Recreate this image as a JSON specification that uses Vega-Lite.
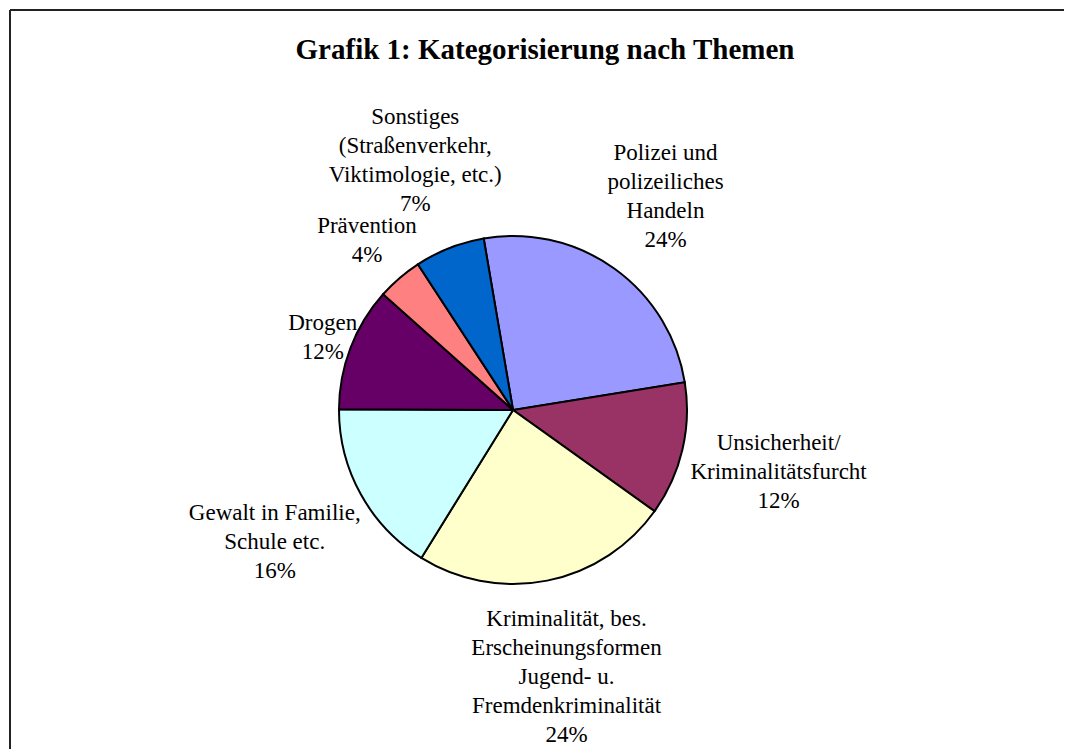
{
  "$schema": "https://vega.github.io/schema/vega-lite/v6.json",
  "width": 1065,
  "height": 750,
  "autosize": {"type": "fit", "contains": "padding"},
  "padding": {"left": 9, "top": 9, "right": 0, "bottom": 0},
  "background": "white",
  "config": {
    "view": {"stroke": null},
    "font": "Liberation Serif"
  },
  "title": {
    "text": "Grafik 1: Kategorisierung nach Themen",
    "font": "Liberation Serif",
    "fontSize": 29,
    "fontWeight": "bold",
    "color": "black",
    "anchor": "middle",
    "dx": 8,
    "offset": -56
  },
  "data": {
    "values": [
      {"nr": 1, "thema": "Polizei und polizeiliches Handeln", "anteil": 25.1, "label": "Polizei und\npolizeiliches\nHandeln\n24%"},
      {"nr": 2, "thema": "Unsicherheit/Kriminalitätsfurcht", "anteil": 12.4, "label": "Unsicherheit/\nKriminalitätsfurcht\n12%"},
      {"nr": 3, "thema": "Kriminalität, bes. Erscheinungsformen Jugend- u. Fremdenkriminalität", "anteil": 23.9, "label": "Kriminalität, bes.\nErscheinungsformen\nJugend- u.\nFremdenkriminalität\n24%"},
      {"nr": 4, "thema": "Gewalt in Familie, Schule etc.", "anteil": 16.2, "label": "Gewalt in Familie,\nSchule etc.\n16%"},
      {"nr": 5, "thema": "Drogen", "anteil": 11.5, "label": "Drogen\n12%"},
      {"nr": 6, "thema": "Prävention", "anteil": 4.2, "label": "Prävention\n4%"},
      {"nr": 7, "thema": "Sonstiges (Straßenverkehr, Viktimologie, etc.)", "anteil": 6.5, "label": "Sonstiges\n(Straßenverkehr,\nViktimologie, etc.)\n7%"}
    ]
  },
  "layer": [
    {
      "data": {"values": [{}]},
      "mark": {"type": "rule", "stroke": "#222222", "strokeWidth": 2},
      "encoding": {"x": {"value": 0}}
    },
    {
      "data": {"values": [{}]},
      "mark": {"type": "rule", "stroke": "#222222", "strokeWidth": 2},
      "encoding": {"y": {"value": 0}}
    },
    {
      "mark": {"type": "arc", "outerRadius": 174, "stroke": "black", "strokeWidth": 2, "x": {"expr": "width/2 - 24"}, "y": {"expr": "height/2 + 30.5"}},
      "encoding": {
        "theta": {"field": "anteil", "type": "quantitative", "stack": true, "scale": {"range": [-0.1693, 6.1139]}},
        "order": {"field": "nr", "type": "quantitative"},
        "color": {
          "field": "thema", "type": "nominal", "legend": null,
          "scale": {
            "domain": ["Polizei und polizeiliches Handeln", "Unsicherheit/Kriminalitätsfurcht", "Kriminalität, bes. Erscheinungsformen Jugend- u. Fremdenkriminalität", "Gewalt in Familie, Schule etc.", "Drogen", "Prävention", "Sonstiges (Straßenverkehr, Viktimologie, etc.)"],
            "range": ["#9999FF", "#993366", "#FFFFCC", "#CCFFFF", "#660066", "#FF8080", "#0066CC"]
          }
        }
      }
    },
    {
      "mark": {
        "type": "text",
        "radius": {"expr": "160 + 1.3 * abs(cos(scale('theta', (datum.anteil_start + datum.anteil_end) / 2))) * length(split(datum.label, '\\n')) * 14.5 + abs(sin(scale('theta', (datum.anteil_start + datum.anteil_end) / 2))) * 5.4 * max(length(split(datum.label, '\\n')[0] || ''), length(split(datum.label, '\\n')[1] || ''), length(split(datum.label, '\\n')[2] || ''), length(split(datum.label, '\\n')[3] || ''), length(split(datum.label, '\\n')[4] || ''))"},
        "dy": {"expr": "-(length(split(datum.label, '\\n')) - 1) * 14.5"},
        "fontSize": 23,
        "font": "Liberation Serif",
        "lineBreak": "\n",
        "lineHeight": 29,
        "align": "center",
        "baseline": "middle",
        "color": "black",
        "x": {"expr": "width/2 - 24"},
        "y": {"expr": "height/2 + 30.5"}
      },
      "encoding": {
        "theta": {"field": "anteil", "type": "quantitative", "stack": true},
        "order": {"field": "nr", "type": "quantitative"},
        "text": {"field": "label", "type": "nominal"}
      }
    }
  ]
}
